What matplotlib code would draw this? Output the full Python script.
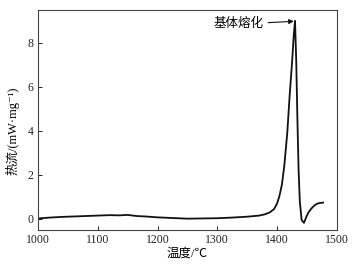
import matplotlib
matplotlib.use("Agg")
import matplotlib.pyplot as plt

plt.rcParams["font.family"] = ["Liberation Serif", "Noto Sans CJK SC", "DejaVu Serif"]

# ── Data ──────────────────────────────────────────────────────────────────────
temp = [1000, 1020, 1040, 1060, 1080, 1100, 1120, 1135, 1150, 1165, 1180,
        1200, 1225, 1250, 1275, 1300, 1325, 1350, 1370, 1380, 1388, 1395,
        1400, 1404, 1408, 1412, 1417, 1421, 1425, 1428, 1430, 1432, 1434,
        1436, 1438, 1441, 1445, 1449, 1453, 1458, 1462, 1466, 1471, 1477]
heat_flow = [0.02, 0.06, 0.09, 0.11, 0.13, 0.15, 0.17, 0.16, 0.18, 0.13, 0.11,
             0.07, 0.04, 0.01, 0.02, 0.03, 0.06, 0.10, 0.15, 0.21, 0.30, 0.45,
             0.70, 1.05, 1.55, 2.40, 3.90, 5.60, 7.10, 8.40, 9.00, 7.20, 4.50,
             2.20, 0.80, -0.05, -0.18, 0.10, 0.32, 0.49, 0.60, 0.68, 0.72, 0.74]

peak_label = "基体熔化"
x_ticks = [1000, 1100, 1200, 1300, 1400, 1500]
y_ticks = [0, 2, 4, 6, 8]

# ── Figure ───────────────────────────────────────────────────────────────────
fig = plt.figure(figsize=(3.58, 2.67), dpi=100)
ax = fig.add_axes([0.106, 0.139, 0.835, 0.824])

ax.plot(temp, heat_flow, color="#111111", lw=1.3)

ax.set_xlim(1000, 1500)
ax.set_ylim(-0.5, 9.5)
ax.set_xticks(x_ticks)
ax.set_yticks(y_ticks)
ax.tick_params(direction="in", length=3, width=0.7, labelsize=8.5,
               colors="#222222", pad=3)
for sp in ax.spines.values():
    sp.set_linewidth(0.8)
    sp.set_color("#444444")

ax.set_xlabel("温度/℃", fontsize=9, labelpad=1)
ax.set_ylabel("热流/(mW·mg⁻¹)", fontsize=9)
ax.yaxis.set_label_coords(-0.062, 0.45)

ax.annotate(peak_label, xy=(1428, 8.98), xytext=(1378, 8.85),
            ha="right", va="center", fontsize=9,
            arrowprops=dict(arrowstyle="-|>", color="#111111", lw=0.8,
                            mutation_scale=7, shrinkA=1, shrinkB=0))

fig.savefig("out.png", dpi=100)
